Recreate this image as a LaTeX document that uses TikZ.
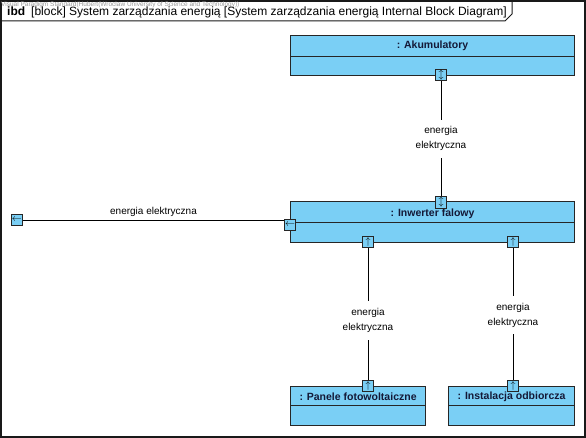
\documentclass[tikz,border=0pt]{standalone}
\usepackage{fontspec}
\setmainfont{Liberation Sans}
\definecolor{blockblue}{RGB}{122,207,245}
\definecolor{nameblue}{RGB}{20,25,55}
\begin{document}
\begin{tikzpicture}
[
x=1pt, y=-1pt,
Frame/.style={draw=black!90, line width=1.4pt},
BlockBox/.style={rectangle, draw=black!85, fill=blockblue, line width=1.1pt, anchor=north west, inner sep=0pt},
Headline/.style={draw=black!85, line width=0.9pt},
BlockName/.style={font=\fontsize{10.5}{12}\selectfont\bfseries, text=nameblue},
Port/.style={rectangle, draw=black!85, fill=blockblue, line width=0.8pt, minimum size=11.5pt, inner sep=0pt, font=\fontsize{10}{10}\selectfont},
Conn/.style={-, draw=black, line width=0.9pt},
Label/.style={font=\fontsize{10}{15}\selectfont, fill=white, align=center, inner xsep=2pt, inner ysep=7pt},
TopLabel/.style={font=\fontsize{10}{12}\selectfont, align=center, inner sep=1pt},
]

\useasboundingbox (-1,-1) rectangle (585,437);

% frame and tab
\draw[Frame] (0,0) rectangle (584,436);
\draw[Frame, line width=1pt] (0,20) -- (504,20) -- (511,13) -- (511,0);
\node[anchor=west, text=black!40, font=\fontsize{6.5}{7}\selectfont, inner sep=0pt] (mark) at (0,3.5) {Visual Paradigm Standard(Hubert(Wroclaw University of Science and Technology))};
\node[anchor=west, font=\fontsize{12}{13}\selectfont, inner sep=0pt] (title) at (6,11.5) {\textbf{ibd}\enspace[block] System zarządzania energią [System zarządzania energią Internal Block Diagram]};

% blocks
\node[BlockBox, minimum width=284pt, minimum height=40pt] (akum) at (289,34) {};
\node[BlockBox, minimum width=284pt, minimum height=41pt] (inw) at (289,200) {};
\node[BlockBox, minimum width=135pt, minimum height=39pt] (panele) at (289,385) {};
\node[BlockBox, minimum width=126pt, minimum height=39pt] (inst) at (447,385) {};

\draw[Headline] ([yshift=-21pt]akum.north west) -- ([yshift=-21pt]akum.north east);
\draw[Headline] ([yshift=-21pt]inw.north west) -- ([yshift=-21pt]inw.north east);
\draw[Headline] ([yshift=-19pt]panele.north west) -- ([yshift=-19pt]panele.north east);
\draw[Headline] ([yshift=-19pt]inst.north west) -- ([yshift=-19pt]inst.north east);

\node[BlockName] (akumName) at ([yshift=-11pt]akum.north) {: Akumulatory};
\node[BlockName] (inwName) at ([yshift=-13pt]inw.north) {: Inwerter falowy};
\node[BlockName] (paneleName) at ([yshift=-11pt]panele.north) {: Panele fotowoltaiczne};
\node[BlockName] (instName) at ([yshift=-11pt]inst.north) {: Instalacja odbiorcza};

% ports
\node[Port] (akumP) at (440,74) {$\updownarrow$};
\node[Port] (inwTop) at (440,201.5) {$\updownarrow$};
\node[Port] (inwL) at (289,224) {$\leftarrow$};
\node[Port] (inwB1) at (367,241) {$\uparrow$};
\node[Port] (inwB2) at (512,241) {$\uparrow$};
\node[Port] (paneleP) at (367,385) {$\uparrow$};
\node[Port] (instP) at (512,385) {$\uparrow$};
\node[Port] (outP) at (16,219) {$\leftarrow$};

% connectors
\draw[Conn] (akumP) -- node[Label] (lab1) {energia\\elektryczna} (inwTop);
\draw[Conn] (inwB1) -- node[Label, pos=0.55] (lab2) {energia\\elektryczna} (paneleP);
\draw[Conn] (inwB2) -- node[Label, pos=0.51] (lab3) {energia\\elektryczna} (instP);
\draw[Conn] (outP) -- node[TopLabel, above=2pt] (lab4) {energia elektryczna} (outP -| inwL.west);

\end{tikzpicture}
\end{document}
